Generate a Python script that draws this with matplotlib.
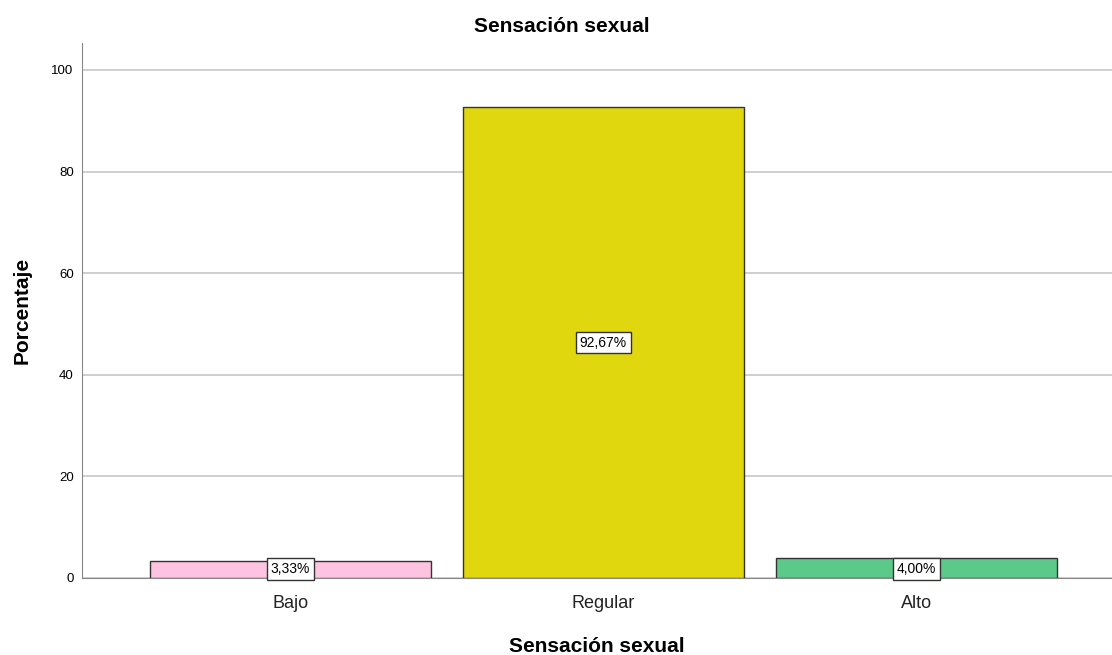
import matplotlib
matplotlib.use("Agg")
import matplotlib.pyplot as plt

categories = ["Bajo", "Regular", "Alto"]
values = [3.33, 92.67, 4.00]
labels = ["3,33%", "92,67%", "4,00%"]
colors = ["#fec3e1", "#e1d70f", "#5bc98a"]
yticks = [0, 20, 40, 60, 80, 100]

plt.rcParams['font.family'] = ['Liberation Sans', 'DejaVu Sans']
fig = plt.figure(figsize=(11.12, 6.55), dpi=100)
ax = fig.add_axes([82/1112, 1 - 578/655, (1112-82)/1112, (578-43)/655])

x = list(range(len(categories)))
ax.bar(x, values, width=0.898, color=colors, edgecolor="#333333", linewidth=1.0, zorder=3)

ax.set_xlim(-0.666, 2.625)
ax.set_ylim(0, 105.3)
ax.set_yticks(yticks)
ax.set_yticklabels([str(t) for t in yticks], fontsize=9.5)
ax.set_xticks(x)
ax.set_xticklabels(categories, fontsize=13, color="#222222")
ax.yaxis.grid(True, color="#cccccc", linewidth=1.3, zorder=0)
ax.set_axisbelow(True)
for s in ["top", "right"]:
    ax.spines[s].set_visible(False)
ax.spines["left"].set_color("#888888")
ax.spines["bottom"].set_color("#888888")
ax.tick_params(axis="x", length=0, pad=12)
ax.tick_params(axis="y", length=0, pad=6)

for xi, v, lab in zip(x, values, labels):
    ypos = v / 2 if v > 10 else 1.8
    ax.text(xi, ypos, lab, ha="center", va="center", fontsize=10, zorder=5,
            bbox=dict(boxstyle="square,pad=0.28", facecolor="white", edgecolor="#333333", linewidth=1))

ax.set_ylabel("Porcentaje", fontsize=15, fontweight="bold", labelpad=14)
ax.set_xlabel("Sensación sexual", fontsize=15, fontweight="bold", labelpad=18)
fig.text(562/1112, 1 - 26/655, "Sensación sexual", ha="center", va="center",
         fontsize=15, fontweight="bold")

fig.savefig("out.png", dpi=100)
